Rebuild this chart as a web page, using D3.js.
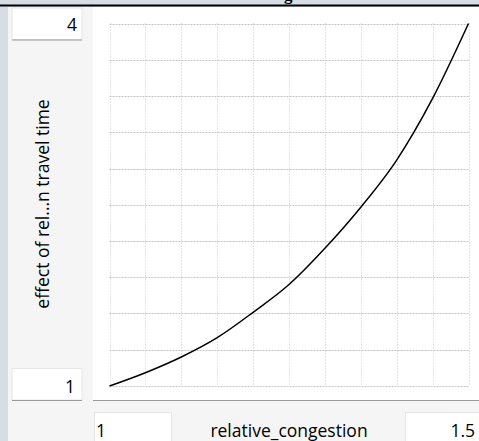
<!DOCTYPE html>
<html>
<head>
<meta charset="utf-8">
<script src="https://cdn.jsdelivr.net/npm/d3@7"></script>
<style>
  html, body { margin: 0; padding: 0; background: #d6dde5; }
  svg { display: block; }
</style>
</head>
<body>
<svg id="chart" width="479" height="441"></svg>
<script>
// Lookup: relative_congestion -> effect of relative congestion on travel time
const chartTitle = "effect of relative congestion on travel time";
const xLabel = "relative_congestion";
const yLabel = "effect of rel...n travel time";
const xValues = [1, 1.05, 1.1, 1.15, 1.2, 1.25, 1.3, 1.35, 1.4, 1.45, 1.5];
const yValues = [1, 1.11, 1.24, 1.40, 1.61, 1.84, 2.14, 2.48, 2.87, 3.38, 4];
const xMinLabel = "1", xMaxLabel = "1.5";
const yMinLabel = "1", yMaxLabel = "4";
const gridDivisions = 10;

const svg = d3.select("#chart");
const font = "'Open Sans', 'Noto Sans', sans-serif";
const fs = 17.5;

// window background and title strip (title sits above the window edge)
svg.append("rect").attr("x", 0).attr("y", 0).attr("width", 479).attr("height", 441).attr("fill", "#d6dde5");
svg.append("rect").attr("x", 8).attr("y", 7).attr("width", 471).attr("height", 434).attr("fill", "#f5f5f5");
svg.append("text").attr("x", 289).attr("y", -0.5)
  .attr("text-anchor", "middle").attr("font-family", "'Liberation Serif', serif")
  .attr("font-weight", "bold").attr("font-size", 17).attr("fill", "#000").text(chartTitle);
svg.append("rect").attr("x", 0).attr("y", 4.5).attr("width", 479).attr("height", 2).attr("fill", "#000");

// plot panel
svg.append("rect").attr("x", 93).attr("y", 7).attr("width", 386).attr("height", 393.5).attr("fill", "#ffffff");
svg.append("line").attr("x1", 93).attr("x2", 479).attr("y1", 400.5).attr("y2", 400.5)
  .attr("stroke", "#9a9a9a").attr("stroke-width", 1);

const x = d3.scaleLinear().domain([xValues[0], xValues[xValues.length - 1]]).range([109.5, 468.5]);
const y = d3.scaleLinear().domain([1, 4]).range([386, 23.5]);

// dotted grid
const grid = svg.append("g").attr("stroke", "#c4c4c4").attr("stroke-width", 1).attr("stroke-dasharray", "2,1");
const xt = d3.range(gridDivisions + 1).map(i => x.domain()[0] + i * (x.domain()[1] - x.domain()[0]) / gridDivisions);
const yt = d3.range(gridDivisions + 1).map(i => y.domain()[0] + i * (y.domain()[1] - y.domain()[0]) / gridDivisions);
grid.selectAll("line.v").data(xt).join("line").attr("class", "v")
  .attr("stroke-dasharray", "1,2")
  .attr("x1", d => Math.round(x(d)) + 0.5).attr("x2", d => Math.round(x(d)) + 0.5)
  .attr("y1", y(4)).attr("y2", y(1));
grid.selectAll("line.h").data(yt).join("line").attr("class", "h")
  .attr("y1", d => Math.round(y(d)) + 0.5).attr("y2", d => Math.round(y(d)) + 0.5)
  .attr("x1", x(xt[0])).attr("x2", x(xt[xt.length - 1]));

// lookup curve
const line = d3.line().curve(d3.curveMonotoneX).x((d, i) => x(xValues[i])).y(d => y(d));
svg.append("path").datum(yValues).attr("d", line)
  .attr("fill", "none").attr("stroke", "#000").attr("stroke-width", 1.5);

// value boxes
function box(bx, by, w, h, label, tx, ty) {
  svg.append("rect").attr("x", bx).attr("y", by).attr("width", w).attr("height", h)
    .attr("fill", "#fff").attr("stroke", "#e6e6e6").attr("stroke-width", 1);
  svg.append("line").attr("x1", bx).attr("x2", bx + w).attr("y1", by + h + 0.5).attr("y2", by + h + 0.5)
    .attr("stroke", "#9a9a9a").attr("stroke-width", 1.2);
  svg.append("text").attr("x", tx).attr("y", ty).attr("text-anchor", "end")
    .attr("font-family", font).attr("font-size", fs).attr("fill", "#000").text(label);
}
box(12, 8, 70, 31.5, yMaxLabel, 77, 31);
box(12, 368.5, 70, 31.5, yMinLabel, 75, 393);

// x-range boxes along the bottom
const bottomY = 436.5;
svg.append("rect").attr("x", 94.5).attr("y", 412.5).attr("width", 77).attr("height", 40)
  .attr("fill", "#fff").attr("stroke", "#e6e6e6");
svg.append("text").attr("x", 96).attr("y", bottomY).attr("font-family", font).attr("font-size", fs)
  .attr("fill", "#000").text(xMinLabel);
svg.append("rect").attr("x", 405.5).attr("y", 412.5).attr("width", 80).attr("height", 40)
  .attr("fill", "#fff").attr("stroke", "#e6e6e6");
svg.append("text").attr("x", 475).attr("y", bottomY).attr("text-anchor", "end").attr("font-family", font)
  .attr("font-size", fs).attr("fill", "#000").text(xMaxLabel);

// axis titles
svg.append("text").attr("x", 289).attr("y", bottomY).attr("text-anchor", "middle")
  .attr("font-family", font).attr("font-size", fs).attr("fill", "#000").text(xLabel);
svg.append("text").attr("transform", "translate(49,204) rotate(-90)").attr("text-anchor", "middle")
  .attr("font-family", font).attr("font-size", fs).attr("fill", "#000").text(yLabel);
</script>
</body>
</html>
